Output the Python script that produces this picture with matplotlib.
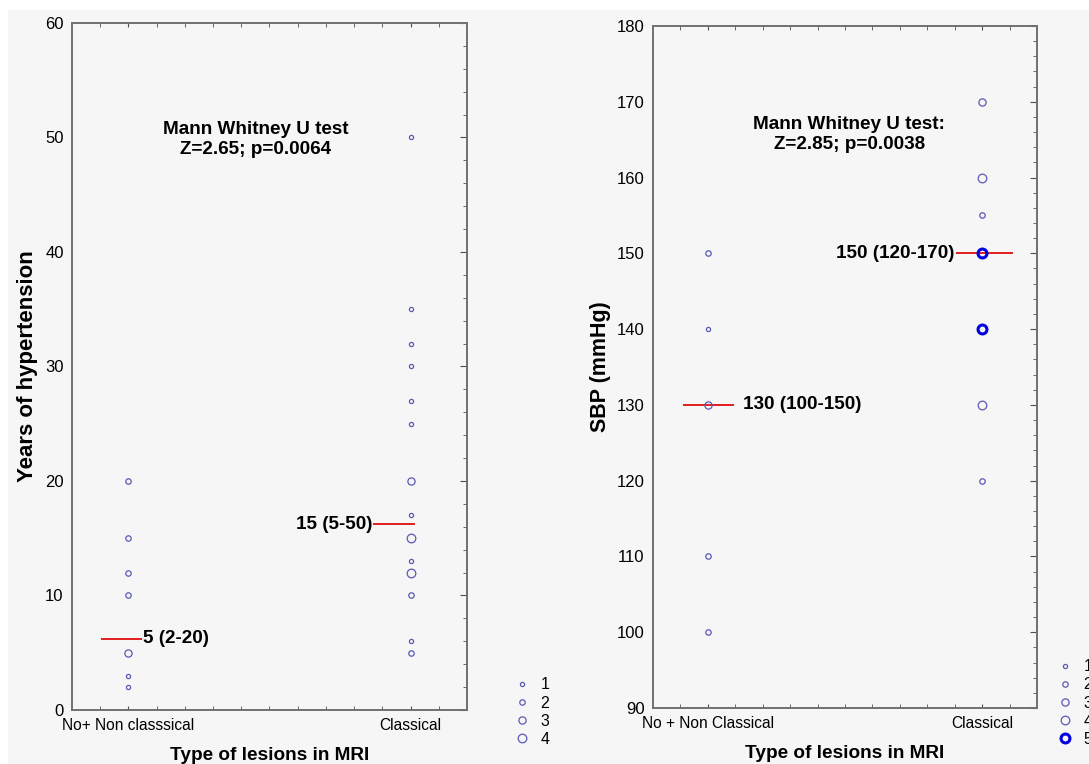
import matplotlib
matplotlib.use("Agg")
import matplotlib.pyplot as plt
from matplotlib.lines import Line2D
from matplotlib.patches import Rectangle

plt.rcParams['font.family'] = ['Liberation Sans', 'DejaVu Sans']

# ---- data ----
categories_left = ["No+ Non classsical", "Classical"]
years_nc = [20, 15, 12, 10, 5, 3, 2]
years_nc_n = [2, 2, 2, 2, 3, 1, 1]
years_cl = [50, 35, 32, 30, 27, 25, 20, 17, 15, 13, 12, 10, 6, 5]
years_cl_n = [1, 1, 1, 1, 1, 1, 3, 1, 4, 1, 4, 2, 1, 2]
years_median_lines = [6.2, 16.2]
years_median_labels = ["5 (2-20)", "15 (5-50)"]

categories_right = ["No + Non Classical", "Classical"]
sbp_nc = [150, 140, 130, 110, 100]
sbp_nc_n = [2, 1, 3, 2, 2]
sbp_cl = [170, 160, 155, 150, 140, 130, 120]
sbp_cl_n = [3, 4, 2, 5, 5, 4, 2]
sbp_median_lines = [130, 150]
sbp_median_labels = ["130 (100-150)", "150 (120-170)"]

# marker look per count
msize = {1: 3.0, 2: 3.9, 3: 5.2, 4: 6.2, 5: 6.4}
mew = {1: 0.9, 2: 0.9, 3: 0.9, 4: 0.9, 5: 2.2}
mcol = {1: "#5a5ab4", 2: "#5a5ab4", 3: "#5a5ab4", 4: "#5a5ab4", 5: "#0000e0"}

BG = "#f6f6f6"
RED = "#e01e1e"

fig = plt.figure(figsize=(10.89, 7.64), dpi=100, facecolor="white")
fig.add_artist(Rectangle((8 / 1089, 0), 1, 1 - 10 / 764, transform=fig.transFigure,
                         facecolor=BG, edgecolor="none", zorder=-10))


def style_axes(ax, ymin, ymax, cats):
    ax.set_facecolor(BG)
    for s in ax.spines.values():
        s.set_color("#707070")
        s.set_linewidth(1.4)
    ax.set_xlim(-0.2, 1.2)
    ax.set_ylim(ymin, ymax)
    ax.set_xticks([0, 1])
    ax.set_xticklabels(cats, fontsize=11.2)
    ax.set_xticks([i / 10 for i in range(-1, 12)], minor=True)
    ax.set_yticks(range(ymin, ymax + 1, 10))
    ax.set_yticks(range(ymin, ymax + 1, 2), minor=True)
    ax.tick_params(axis="both", which="both", direction="in", color="#505050",
                   top=True, right=True, left=False)
    ax.tick_params(axis="y", which="major", length=5, pad=6, labelsize=12)
    ax.tick_params(axis="both", which="minor", length=3)
    ax.tick_params(axis="x", which="major", length=3, pad=6)


def scatter_group(ax, x, values, counts):
    for v, n in zip(values, counts):
        ax.plot(x, v, "o", ms=msize[n], mfc="none", mec=mcol[n], mew=mew[n], zorder=3)


# ---- left panel ----
ax1 = fig.add_axes([0.0661, 0.0707, 0.3627, 0.8992])
style_axes(ax1, 0, 60, categories_left)
scatter_group(ax1, 0, years_nc, years_nc_n)
scatter_group(ax1, 1, years_cl, years_cl_n)
ax1.plot([-0.092, 0.043], [years_median_lines[0]] * 2, color=RED, lw=1.4, zorder=2)
ax1.plot([1 - 0.131, 1.011], [years_median_lines[1]] * 2, color=RED, lw=1.4, zorder=2)
ax1.text(0.05, years_median_lines[0], years_median_labels[0], fontsize=13.6,
         fontweight="bold", va="center", ha="left")
ax1.text(1 - 0.134, years_median_lines[1], years_median_labels[1], fontsize=13.6,
         fontweight="bold", va="center", ha="right")
ax1.text(0.45, 49.8, "Mann Whitney U test\nZ=2.65; p=0.0064", fontsize=13.6,
         fontweight="bold", ha="center", va="center", linespacing=1.2)
ax1.set_xlabel("Type of lesions in MRI", fontsize=13.7, fontweight="bold", labelpad=10)
ax1.set_ylabel("Years of hypertension", fontsize=16, fontweight="bold", labelpad=5)

h1 = [Line2D([], [], ls="none", marker="o", ms=msize[n], mfc="none", mec=mcol[n],
             mew=mew[n]) for n in [1, 2, 3, 4]]
fig.legend(h1, ["1", "2", "3", "4"], loc="lower left",
           bbox_to_anchor=(504 / 1089, 1 - 755 / 764), frameon=False, fontsize=11.5,
           labelspacing=0.2, handlelength=1.2, handletextpad=0.6, borderpad=0)

# ---- right panel ----
ax2 = fig.add_axes([0.5996, 0.0733, 0.3526, 0.8927])
style_axes(ax2, 90, 180, categories_right)
scatter_group(ax2, 0, sbp_nc, sbp_nc_n)
scatter_group(ax2, 1, sbp_cl, sbp_cl_n)
ax2.plot([-0.088, 0.091], [sbp_median_lines[0]] * 2, color=RED, lw=1.4, zorder=2)
ax2.plot([1 - 0.091, 1.109], [sbp_median_lines[1]] * 2, color=RED, lw=1.4, zorder=2)
ax2.text(0.128, sbp_median_lines[0], sbp_median_labels[0], fontsize=13.6,
         fontweight="bold", va="center", ha="left")
ax2.text(1 - 0.1, sbp_median_lines[1], sbp_median_labels[1], fontsize=13.6,
         fontweight="bold", va="center", ha="right")
ax2.text(0.515, 165.7, "Mann Whitney U test:\nZ=2.85; p=0.0038", fontsize=13.6,
         fontweight="bold", ha="center", va="center", linespacing=1.2)
ax2.set_xlabel("Type of lesions in MRI", fontsize=13.7, fontweight="bold", labelpad=10)
ax2.set_ylabel("SBP (mmHg)", fontsize=15.5, fontweight="bold", labelpad=4)

h2 = [Line2D([], [], ls="none", marker="o", ms=msize[n], mfc="none", mec=mcol[n],
             mew=mew[n]) for n in [1, 2, 3, 4, 5]]
fig.legend(h2, ["1", "2", "3", "4", "5"], loc="lower left",
           bbox_to_anchor=(1047 / 1089, 1 - 755 / 764), frameon=False, fontsize=11.5,
           labelspacing=0.2, handlelength=1.2, handletextpad=0.6, borderpad=0)

fig.savefig("out.png", dpi=100, facecolor=fig.get_facecolor())
